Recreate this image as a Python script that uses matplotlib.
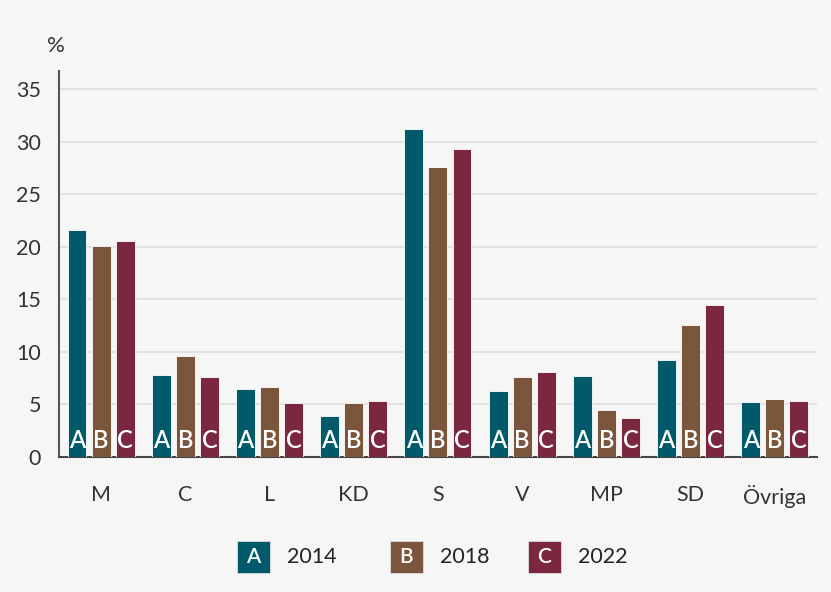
import matplotlib
matplotlib.use("Agg")
import matplotlib.pyplot as plt
from matplotlib.patches import Rectangle
import numpy as np

plt.rcParams['font.family'] = ['Lato', 'DejaVu Sans']

categories = ["M", "C", "L", "KD", "S", "V", "MP", "SD", "Övriga"]
years = ["2014", "2018", "2022"]
letters = ["A", "B", "C"]
v2014 = [21.6, 7.8, 6.5, 3.9, 31.2, 6.3, 7.7, 9.2, 5.2]
v2018 = [20.1, 9.6, 6.7, 5.1, 27.6, 7.6, 4.5, 12.6, 5.5]
v2022 = [20.5, 7.6, 5.1, 5.3, 29.3, 8.1, 3.7, 14.5, 5.3]
yticks = [0, 5, 10, 15, 20, 25, 30, 35]
colors = ["#005a69", "#7b553c", "#7b2740"]
bg = "#f6f6f6"

fig = plt.figure(figsize=(8.31, 5.92), dpi=100, facecolor=bg)
ax = fig.add_axes([0.071, 0.228, 0.912, 0.652], facecolor=bg)

x = np.arange(len(categories))
step = 0.286
width = 0.225
for i, (vals, c, let) in enumerate(zip([v2014, v2018, v2022], colors, letters)):
    xs = x + (i - 1) * step
    ax.bar(xs, vals, width=width, color=c, edgecolor="#ffffff", linewidth=0.6, zorder=3)
    for xi in xs:
        ax.text(xi, 0.45, let, color="white", ha="center", va="bottom",
                fontsize=17, fontweight="semibold", zorder=4)

ax.set_xlim(-0.5, 8.5)
ax.set_ylim(0, 36.7)
ax.set_yticks(yticks)
ax.set_yticklabels([str(t) for t in yticks])
ax.set_xticks(x)
ax.set_xticklabels(categories)
ax.tick_params(axis="both", length=0, labelsize=15.5, colors="#333333")
ax.tick_params(axis="y", pad=13)
ax.tick_params(axis="x", pad=20)
ax.yaxis.grid(True, color="#e2e2e2", linewidth=1.5, zorder=0)
ax.set_axisbelow(True)
for s in ["top", "right"]:
    ax.spines[s].set_visible(False)
ax.spines["left"].set_color("#555555")
ax.spines["left"].set_linewidth(1.5)
ax.spines["bottom"].set_color("#444444")
ax.spines["bottom"].set_linewidth(1.5)

fig.text(0.057, 0.922, "%", fontsize=16, color="#333333", ha="left", va="center")

# legend
W, H = 831, 592
sq = [(237, years[0]), (390, years[1]), (528, years[2])]
for (sx, yr), c, let in zip(sq, colors, letters):
    fig.add_artist(Rectangle((sx / W, 1 - 573 / H), 33 / W, 32 / H,
                             transform=fig.transFigure, facecolor=c,
                             edgecolor="#dddddd", linewidth=0.6))
    fig.text((sx + 16.5) / W, 1 - 557 / H, let, color="white", fontsize=15,
             fontweight="semibold", ha="center", va="center")
    fig.text((sx + 50) / W, 1 - 557 / H, yr, color="#222222", fontsize=15.5,
             ha="left", va="center")

fig.savefig("out.png", dpi=100, facecolor=bg)
